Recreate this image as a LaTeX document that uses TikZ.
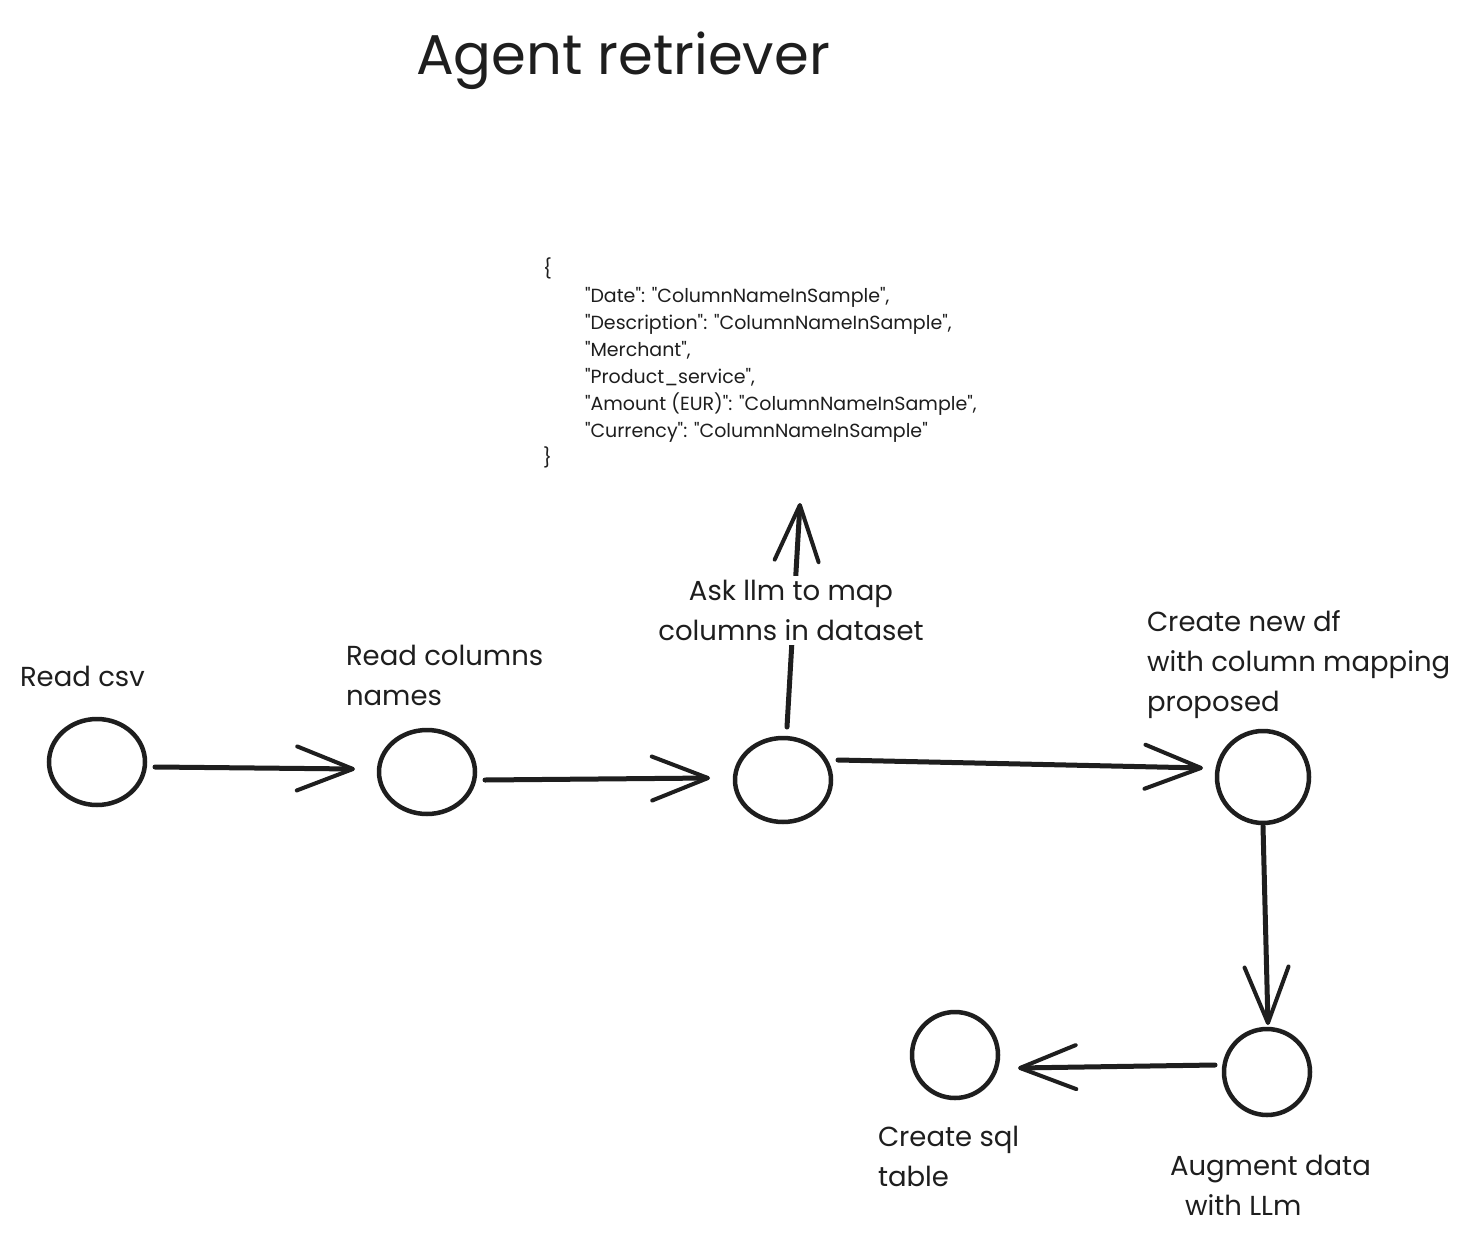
\documentclass[tikz,border=0pt]{standalone}
\usepackage{fontspec}
\setmainfont{Poppins}[Ligatures=TeXOff]
\usetikzlibrary{arrows.meta,shapes.geometric,calc}
\definecolor{ink}{HTML}{1E1E1E}
\newcommand{\dq}{\symbol{34}}
\tikzset{
  circ/.style={ellipse, draw=ink, line width=4.5pt, inner sep=0pt, outer sep=0pt},
  arr/.style={draw=ink, line width=5pt, line cap=round,
    -{Straight Barb[length=56pt,width=44pt,line width=4pt,round]}},
  lbl/.style={anchor=north west, inner sep=0pt, outer sep=0pt, align=left, text=ink,
    font=\fontsize{27.5}{40}\selectfont},
  code/.style={anchor=north west, inner sep=0pt, outer sep=0pt, align=left, text=ink,
    font=\fontsize{19}{27}\selectfont},
  ttl/.style={anchor=north west, inner sep=0pt, outer sep=0pt, text=ink,
    font=\fontsize{56}{60}\selectfont}
}
\begin{document}
\begin{tikzpicture}[x=1pt,y=-1pt]
\useasboundingbox[fill=white] (0,0) rectangle (1481,1247);

% title
\node[ttl] (title) at (416,32) {Agent retriever};

% json
\node[code] (json) at (543,258) {\{\\
\hspace*{42pt}\dq Date\dq: \dq ColumnNameInSample\dq,\\
\hspace*{42pt}\dq Description\dq: \dq ColumnNameInSample\dq,\\
\hspace*{42pt}\dq Merchant\dq,\\
\hspace*{42pt}\dq Product\_service\dq,\\
\hspace*{42pt}\dq Amount (EUR)\dq: \dq ColumnNameInSample\dq,\\
\hspace*{42pt}\dq Currency\dq: \dq ColumnNameInSample\dq\\
\}};

% circles
\node[circ, minimum width=96pt, minimum height=86pt] (c1) at (97,762) {};
\node[circ, minimum width=96pt, minimum height=84pt] (c2) at (427,772) {};
\node[circ, minimum width=96pt, minimum height=84pt] (c3) at (783,780) {};
\node[circ, minimum width=92pt, minimum height=92pt] (c4) at (1263,777) {};
\node[circ, minimum width=86pt, minimum height=86pt] (c5) at (1267,1072) {};
\node[circ, minimum width=86pt, minimum height=86pt] (c6) at (955,1055) {};

\coordinate (up) at (800,503);

% connectors
\draw[arr] ($(c1.east)+(10,5)$) -- ($(c2.west)+(-24,-3)$);
\draw[arr] ($(c2.east)+(10,8)$) -- ($(c3.west)+(-25,-2)$);
\draw[arr] ($(c3.east)+(7,-20)$) -- ($(c4.west)+(-14,-9)$);
\draw[arr] ($(c3.north)+(4,-11)$) -- (up);
\draw[arr] ($(c4.south)+(0,3)$) -- ($(c5.north)+(1,-4)$);
\draw[arr] ($(c5.west)+(-9,-7)$) -- ($(c6.east)+(20,13)$);

% labels
\node[lbl] (l1) at (20,666) {Read csv};
\node[lbl] (l2) at (346,645) {Read columns\\names};
\node[lbl, anchor=north, align=center, fill=white, inner sep=4pt] (l3) at (791,576) {Ask llm to map\\columns in dataset};
\node[lbl] (l4) at (1147,610) {Create new df\\with column mapping\\proposed};
\node[lbl] (l5) at (878,1126) {Create sql\\table};
\node[lbl] (l6) at (1170,1155) {Augment data\\\hspace*{15pt}with LLm};
\end{tikzpicture}
\end{document}
